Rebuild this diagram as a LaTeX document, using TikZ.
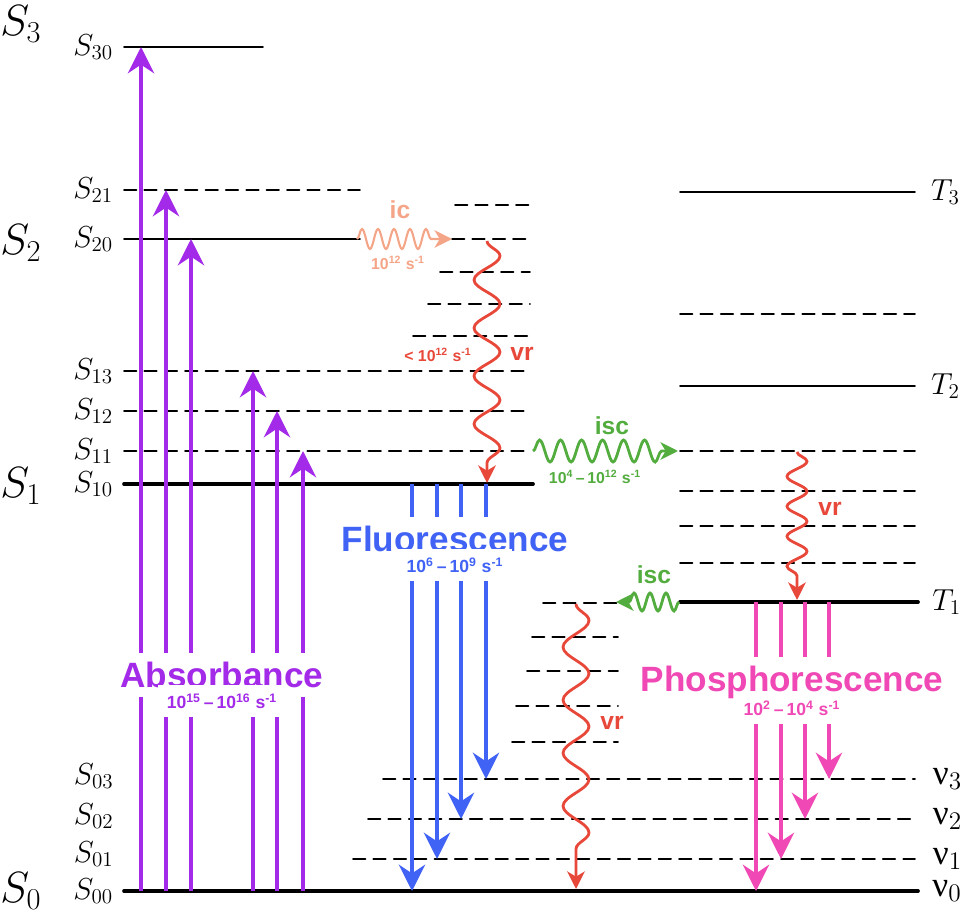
\documentclass[tikz,border=0pt]{standalone}
\usepackage{amsmath}
\usepackage{xcolor}
\usepackage{fontspec}
\usepackage{tikz}
\usepackage{tkz-euclide}
\usetikzlibrary{calc,positioning,arrows.meta,decorations.pathmorphing}

\newfontfamily\labfont{Liberation Sans}
\newfontfamily\nufont{Liberation Serif}

\definecolor{absviolet}{RGB}{162,42,232}
\definecolor{fluoblue}{RGB}{64,98,245}
\definecolor{phospink}{RGB}{240,72,180}
\definecolor{vrred}{RGB}{232,72,58}
\definecolor{iscgreen}{RGB}{82,172,62}
\definecolor{icsalmon}{RGB}{245,165,135}

\newcommand{\tenpow}[1]{10\textsuperscript{#1}}
\newcommand{\persec}{s\textsuperscript{-1}}

\tikzset{
  lvl/.style={line width=0.95pt},
  vib/.style={line width=1.1pt,dash pattern=on 7pt off 4.6pt},
  ground/.style={line width=2.1pt},
  emit/.style={line width=1.9pt,-{Stealth[length=15pt,width=15pt,inset=5pt]}},
  wave/.style={decorate,line width=1.6pt,-{Stealth[length=10pt,width=10pt,inset=3pt]}},
  lvllabel/.style={inner sep=0pt,font=\fontsize{17}{17}\selectfont},
  biglabel/.style={inner sep=0pt,anchor=west,font=\fontsize{27}{27}\selectfont},
  procname/.style={font=\labfont\bfseries\fontsize{20}{20}\selectfont,fill=white,inner sep=5pt},
  ratebox/.style={font=\labfont\bfseries\fontsize{10}{10}\selectfont,fill=white,inner sep=5pt},
  rate/.style={font=\labfont\bfseries\fontsize{9}{9}\selectfont,inner sep=1pt},
  wavename/.style={font=\labfont\bfseries\fontsize{14}{14}\selectfont,inner sep=1pt}
}

\begin{document}
\begin{tikzpicture}[x=0.02cm,y=-0.02cm]
\useasboundingbox (0,0) rectangle (960,915);
% singlet levels
\tkzDefPoints{124/47/S30a,263/47/S30b,124/190/S21a,360/190/S21b,124/239/S20a,360/239/S20b}
\tkzDefPoints{455/205/U5a,530/205/U5b,452/239/U4a,530/239/U4b,440/272/U3a,530/272/U3b,428/304/U2a,530/304/U2b,413/336/U1a,530/336/U1b}
\tkzDefPoints{124/371/S13a,530/371/S13b,124/411/S12a,530/411/S12b,124/451/S11a,530/451/S11b,124/484/S10a,533/484/S10b}
% triplet levels
\tkzDefPoints{680/192/T3a,915/192/T3b,680/314/W1a,915/314/W1b,680/386/T2a,915/386/T2b}
\tkzDefPoints{680/451/W2a,915/451/W2b,680/491/W3a,915/491/W3b,680/526/W4a,915/526/W4b,680/563/W5a,915/563/W5b,680/602/T1a,918/602/T1b}
% ground state levels
\tkzDefPoints{543/603/G1a,618/603/G1b,532/637/G2a,618/637/G2b,527/671/G3a,618/671/G3b,516/706/G4a,618/706/G4b,512/742/G5a,618/742/G5b}
\tkzDefPoints{383/779/S03a,915/779/S03b,368/819/S02a,915/819/S02b,353/859/S01a,915/859/S01b,124/891/S00a,918/891/S00b}
% arrow ends
\tkzDefPoints{141/891/A1,141/47/A1t,166/891/A2,166/190/A2t,191/891/A3,191/239/A3t,253/891/A4,253/371/A4t,277/891/A5,277/411/A5t,303/891/A6,303/451/A6t}
\tkzDefPoints{412/484/F1,412/891/F1b,437/484/F2,437/859/F2b,461/484/F3,461/819/F3b,486/484/F4,486/779/F4b}
\tkzDefPoints{756/602/P1,756/891/P1b,781/602/P2,781/859/P2b,805/602/P3,805/819/P3b,829/602/P4,829/779/P4b}
\tkzDefPoints{357/239/IC,452/239/ICb,487/241/VRa,487/483/VRab,533/451/ISa,678/451/ISab,797/452/VRb,797/600/VRbb,679/602/ISb,616/602/ISbb,576/604/VRc,576/889/VRcb}

\tkzDrawSegments[lvl](S30a,S30b S20a,S20b T3a,T3b T2a,T2b)
\tkzDrawSegments[vib](S21a,S21b U5a,U5b U4a,U4b U3a,U3b U2a,U2b U1a,U1b S13a,S13b S12a,S12b S11a,S11b)
\tkzDrawSegments[vib](W1a,W1b W2a,W2b W3a,W3b W4a,W4b W5a,W5b)
\tkzDrawSegments[vib](G1a,G1b G2a,G2b G3a,G3b G4a,G4b G5a,G5b S03a,S03b S02a,S02b S01a,S01b)
\tkzDrawSegments[ground](S10a,S10b T1a,T1b S00a,S00b)

% absorbance
\draw[emit,absviolet] (A1) -- (A1t);
\draw[emit,absviolet] (A2) -- (A2t);
\draw[emit,absviolet] (A3) -- (A3t);
\draw[emit,absviolet] (A4) -- (A4t);
\draw[emit,absviolet] (A5) -- (A5t);
\draw[emit,absviolet] (A6) -- (A6t);
% fluorescence
\draw[emit,fluoblue] (F1) -- (F1b);
\draw[emit,fluoblue] (F2) -- (F2b);
\draw[emit,fluoblue] (F3) -- (F3b);
\draw[emit,fluoblue] (F4) -- (F4b);
% phosphorescence
\draw[emit,phospink] (P1) -- (P1b);
\draw[emit,phospink] (P2) -- (P2b);
\draw[emit,phospink] (P3) -- (P3b);
\draw[emit,phospink] (P4) -- (P4b);

% non-radiative
\draw[wave,icsalmon,line width=1.2pt,decoration={snake,segment length=0.32cm,amplitude=0.2cm,post length=0.3cm}] (IC) -- (ICb);
\draw[wave,vrred,decoration={snake,segment length=0.96cm,amplitude=0.26cm,post length=0.4cm}] (VRa) -- (VRab);
\draw[wave,iscgreen,decoration={snake,segment length=0.42cm,amplitude=0.22cm,post length=0.3cm}] (ISa) -- (ISab);
\draw[wave,vrred,decoration={snake,segment length=0.6cm,amplitude=0.2cm,post length=0.35cm}] (VRb) -- (VRbb);
\draw[wave,iscgreen,decoration={snake,segment length=0.32cm,amplitude=0.18cm,post length=0.25cm}] (ISb) -- (ISbb);
\draw[wave,vrred,decoration={snake,segment length=1.06cm,amplitude=0.26cm,post length=0.45cm}] (VRc) -- (VRcb);

% level labels
\node[biglabel] (nS3) at (0,24) {$S_3$};
\node[biglabel] (nS2) at (0,243) {$S_2$};
\node[biglabel] (nS1) at (0,486) {$S_1$};
\node[biglabel] (nS0) at (0,891) {$S_0$};
\node[lvllabel,left=6pt of S30a] (nS30) {$S_{30}$};
\node[lvllabel,left=6pt of S21a] (nS21) {$S_{21}$};
\node[lvllabel,left=6pt of S20a] (nS20) {$S_{20}$};
\node[lvllabel,left=6pt of S13a] (nS13) {$S_{13}$};
\node[lvllabel,left=6pt of S12a] (nS12) {$S_{12}$};
\node[lvllabel,left=6pt of S11a] (nS11) {$S_{11}$};
\node[lvllabel,left=6pt of S10a] (nS10) {$S_{10}$};
\node[lvllabel,left=6pt of S00a] (nS00) {$S_{00}$};
\node[lvllabel] (nS01) at (114,854) [anchor=east] {$S_{01}$};
\node[lvllabel] (nS02) at (114,816) [anchor=east] {$S_{02}$};
\node[lvllabel] (nS03) at (114,776) [anchor=east] {$S_{03}$};
\node[lvllabel,right=9pt of T3b] (nT3) {$T_3$};
\node[lvllabel,right=9pt of T2b] (nT2) {$T_2$};
\node[lvllabel,right=8pt of T1b] (nT1) {$T_1$};
\node[lvllabel,right=10pt of S03b,font=\fontsize{20}{20}\selectfont] (nv3) {{\nufont ν}$_3$};
\node[lvllabel,right=10pt of S02b,font=\fontsize{20}{20}\selectfont] (nv2) {{\nufont ν}$_2$};
\node[lvllabel,right=10pt of S01b,font=\fontsize{20}{20}\selectfont] (nv1) {{\nufont ν}$_1$};
\node[lvllabel,right=8pt of S00b,font=\fontsize{20}{20}\selectfont] (nv0) {{\nufont ν}$_0$};

% process names
\node[procname,text=absviolet] (abs) at (222,675) {Absorbance};
\node[ratebox,text=absviolet] (absrate) at (222,701) {\tenpow{15}\,–\,\tenpow{16} \persec};
\node[procname,text=fluoblue] (fluo) at (455,539) {Fluorescence};
\node[ratebox,text=fluoblue] (fluorate) at (455,565) {\tenpow{6}\,–\,\tenpow{9} \persec};
\node[procname,text=phospink] (phos) at (792,682) {Phosphorescence};
\node[ratebox,text=phospink] (phosrate) at (792,708) {\tenpow{2}\,–\,\tenpow{4} \persec};

\node[wavename,text=icsalmon] (ic) at (400,210) {ic};
\node[rate,text=icsalmon] (icrate) at (398,263) {\tenpow{12} \persec};
\node[wavename,text=vrred] (vra) at (522,354) {vr};
\node[rate,text=vrred] (vrarate) at (438,355) {< \tenpow{12} \persec};
\node[wavename,text=iscgreen] (isca) at (612,426) {isc};
\node[rate,text=iscgreen] (iscarate) at (595,477) {\tenpow{4}\,–\,\tenpow{12} \persec};
\node[wavename,text=vrred] (vrb) at (830,509) {vr};
\node[wavename,text=iscgreen] (iscb) at (654,575) {isc};
\node[wavename,text=vrred] (vrc) at (612,723) {vr};
\end{tikzpicture}
\end{document}
